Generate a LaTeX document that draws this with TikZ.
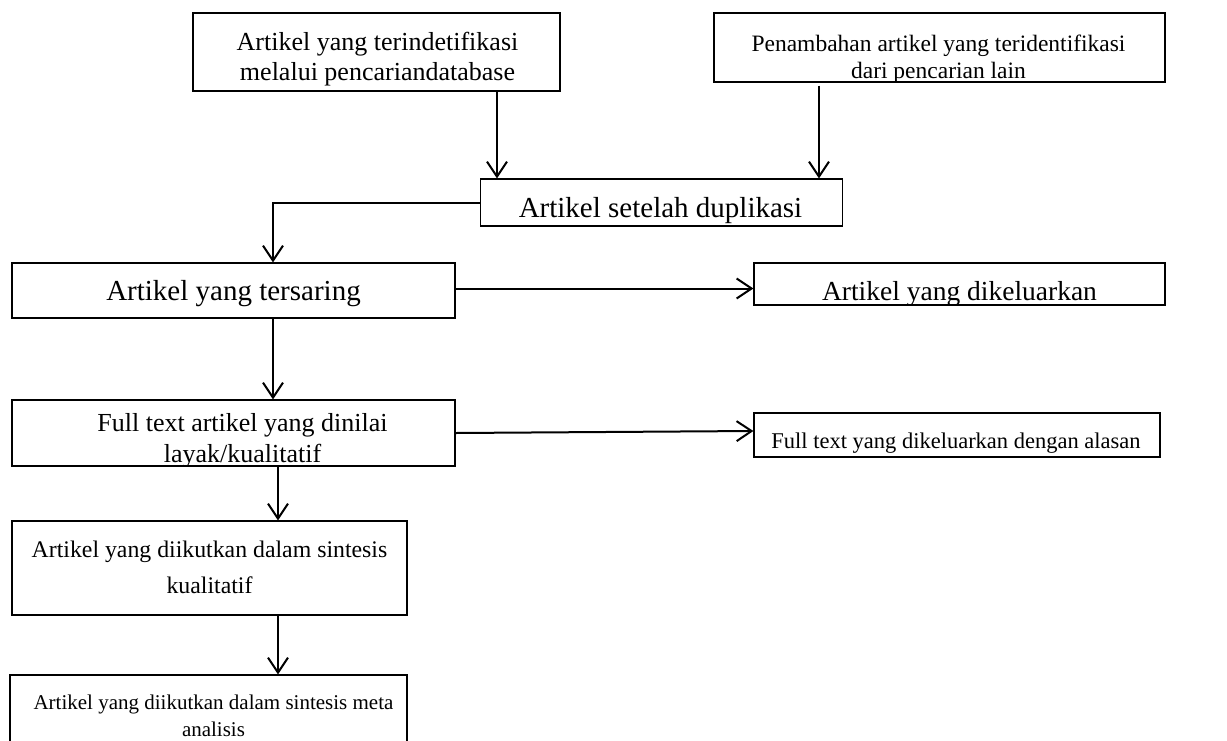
\documentclass[tikz,border=0pt]{standalone}
\usepackage{fontspec}
\setmainfont{Liberation Serif}
\usetikzlibrary{arrows.meta,calc}
\tikzset{
  box/.style={draw=black, line width=1.2pt, rectangle, inner sep=0pt},
  boxtext/.style={anchor=base, inner sep=0pt, outer sep=0pt},
  arr/.style={line width=2pt, -{Straight Barb[length=15pt,width=20pt,line width=2pt]}}
}
\newcommand{\fs}[2]{\fontsize{#1}{#2}\selectfont}
% #1 name, #2 centre, #3 width, #4 height, #5 font, #6 first baseline below top, #7 xshift, #8 text
\newcommand{\cbox}[8]{%
  \node[box, minimum width=#3, minimum height=#4,
    path picture={\node[boxtext, font=#5] (#1t) at ([yshift=-#6, xshift=#7]path picture bounding box.north)
      {\begin{tabular}[t]{@{}c@{}}#8\end{tabular}};}] (#1) at (#2) {};}
\begin{document}
\begin{tikzpicture}[x=1pt,y=-1pt]
\useasboundingbox (0,0) rectangle (1227,740);
\cbox{A}{376.5,52}{367pt}{78pt}{\fs{26}{30}}{37pt}{1pt}{Artikel yang terindetifikasi\\melalui pencariandatabase}
\cbox{B}{939.5,47.5}{451pt}{69pt}{\fs{23.5}{27}}{38pt}{-1pt}{Penambahan artikel yang teridentifikasi\\dari pencarian lain}
\cbox{C}{661.5,202.5}{362pt}{47pt}{\fs{29}{34}}{38pt}{-1pt}{Artikel setelah duplikasi}
\cbox{D}{233.5,290.5}{443pt}{55pt}{\fs{29}{34}}{37pt}{0pt}{Artikel yang tersaring}
\cbox{E}{959.5,284}{411pt}{42pt}{\fs{27.5}{34}}{37pt}{0pt}{Artikel yang dikeluarkan}
\cbox{F}{233.5,433}{443pt}{66pt}{\fs{26}{31}}{31pt}{9pt}{Full text artikel yang dinilai\\layak/kualitatif}
\cbox{F2}{957,435}{406pt}{44pt}{\fs{22.5}{28}}{35pt}{-1pt}{Full text yang dikeluarkan dengan alasan}
\cbox{G}{209.5,568}{395pt}{94pt}{\fs{23.8}{36}}{36pt}{0pt}{Artikel yang diikutkan dalam sintesis\\kualitatif}
\cbox{H}{208.5,710}{397pt}{70pt}{\fs{21}{27}}{34pt}{5pt}{Artikel yang diikutkan dalam sintesis meta\\analisis}
\draw[arr] ([xshift=120.5pt]A.south) -- ([xshift=-164.5pt]C.north);
\draw[arr] ([xshift=-120.5pt,yshift=-3pt]B.south) -- ([xshift=157.5pt]C.north);
\draw[arr] (C.west) -| ([xshift=39.5pt]D.north);
\draw[arr] ([yshift=2pt]D.east) -- ([yshift=2pt]D.east -| E.west);
\draw[arr] ([xshift=39.5pt]D.south) -- ([xshift=39.5pt]F.north);
\draw[arr] (F.east) -- ([yshift=4pt]F2.west);
\draw[arr] ([xshift=44.5pt]F.south) -- ([xshift=68.5pt]G.north);
\draw[arr] ([xshift=68.5pt]G.south) -- ([xshift=69.5pt]H.north);
\end{tikzpicture}
\end{document}
